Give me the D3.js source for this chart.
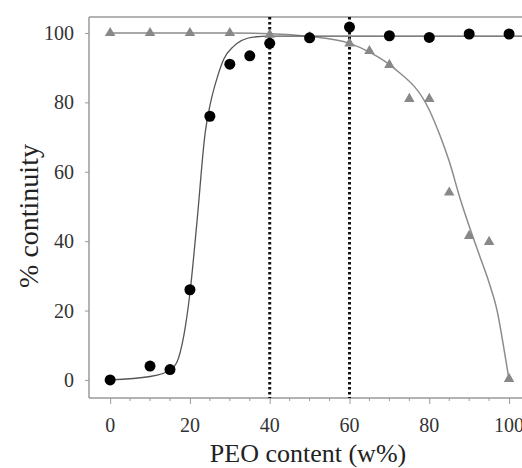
<!DOCTYPE html>
<html lang="en">
<head>
  <meta charset="UTF-8">
  <title>% continuity vs PEO content</title>
  <script src="https://cdnjs.cloudflare.com/ajax/libs/d3/7.8.5/d3.min.js"></script>
  <style>
    body { margin: 0; background: #fff; }
    text { font-family: "Liberation Serif", "DejaVu Serif", serif; fill: #333; }
    .tick-label { font-size: 20px; }
    .title { font-size: 26px; fill: #222; }
  </style>
</head>
<body>
  <svg width="522" height="468"></svg>
  <script>
    // circles (black) - measured points
    var circleX = [0, 10, 15, 20, 25, 30, 35, 40, 50, 60, 70, 80, 90, 100]
    var circleY = [0, 4, 3, 26, 76, 91, 93.4, 97, 98.6, 101.7, 99.2, 98.7, 99.7, 99.7]

    // triangles (grey)
    var triX = [0, 10, 20, 30, 40, 50, 60, 65, 70, 75, 80, 85, 90, 95, 100]
    var triY = [100, 100, 100, 100, 99.5, 98.8, 97, 94.8, 90.8, 81, 81, 54, 41.5, 39.8, 0.3]

    // fitted curves
    var fitCircX = [0, 10, 15, 16.7, 18.5, 20, 21.8, 23.8, 25, 26.8, 28.5, 30.8, 35.8, 40, 50, 106]
    var fitCircY = [0, 1, 2.8, 5, 13, 25, 46, 71, 79, 87, 92.5, 96, 98.8, 99.1, 99.1, 99.1]
    var fitTriX = [0, 30, 40, 50, 60, 65, 71, 80, 82.5, 85, 87.8, 90.7, 92.7, 95, 97, 99, 100]
    var fitTriY = [100, 100, 99.8, 99, 97, 94.5, 90, 77.8, 71, 63, 52, 42, 35.5, 28, 20, 7, 0]

    var xTicks = [0, 20, 40, 60, 80, 100]
    var yTicks = [0, 20, 40, 60, 80, 100]
    var vLines = [40, 60]

    var svg = d3.select("svg")
    var x = d3.scaleLinear().domain([-5.3, 106]).range([89, 533])
    var y = d3.scaleLinear().domain([-5.2, 104.6]).range([398, 17])

    var axisCol = "#9a9a9a"

    // frame: left, bottom, top
    svg.append("line").attr("x1", x(-5.3)).attr("x2", x(-5.3)).attr("y1", y(104.6)).attr("y2", y(-5.2))
      .attr("stroke", axisCol).attr("stroke-width", 1.5)
    svg.append("line").attr("x1", x(-5.3)).attr("x2", 522).attr("y1", y(-5.2)).attr("y2", y(-5.2))
      .attr("stroke", axisCol).attr("stroke-width", 1.5)
    svg.append("line").attr("x1", x(-5.3)).attr("x2", 522).attr("y1", y(104.6)).attr("y2", y(104.6))
      .attr("stroke", axisCol).attr("stroke-width", 1.5)

    // x axis ticks
    var xAxis = d3.axisBottom(x).tickValues(xTicks).tickSize(6).tickFormat("")
    var gx = svg.append("g").attr("transform", "translate(0," + y(-5.2) + ")").call(xAxis)
    gx.select(".domain").remove()
    gx.selectAll("line").attr("stroke", axisCol)
    var minor = d3.range(5, 101, 5).filter(d => d % 20 !== 0)
    svg.append("g").selectAll("line").data(minor).join("line")
      .attr("x1", d => x(d)).attr("x2", d => x(d))
      .attr("y1", y(-5.2)).attr("y2", y(-5.2) + 3)
      .attr("stroke", axisCol)
    svg.append("g").selectAll("text").data(xTicks).join("text")
      .attr("class", "tick-label")
      .attr("x", d => x(d)).attr("y", 432)
      .attr("text-anchor", "middle")
      .text(d => d)

    // y axis ticks
    var yAxis = d3.axisLeft(y).tickValues(yTicks).tickSize(4).tickFormat("")
    var gy = svg.append("g").attr("transform", "translate(" + x(-5.3) + ",0)").call(yAxis)
    gy.select(".domain").remove()
    gy.selectAll("line").attr("stroke", axisCol)
    svg.append("g").selectAll("text").data(yTicks).join("text")
      .attr("class", "tick-label")
      .attr("x", 74).attr("y", d => y(d))
      .attr("dy", "0.35em")
      .attr("text-anchor", "end")
      .text(d => d)

    // fitted curves
    var line = d3.line().x(d => x(d[0])).y(d => y(d[1])).curve(d3.curveMonotoneX)
    svg.append("path").datum(d3.zip(fitTriX, fitTriY))
      .attr("d", line).attr("fill", "none").attr("stroke", "#8c8c8c").attr("stroke-width", 1.5)
    svg.append("path").datum(d3.zip(fitCircX, fitCircY))
      .attr("d", line).attr("fill", "none").attr("stroke", "#555").attr("stroke-width", 1.3)

    // dotted verticals
    svg.append("g").selectAll("line").data(vLines).join("line")
      .attr("x1", d => x(d)).attr("x2", d => x(d))
      .attr("y1", y(104.6)).attr("y2", y(-5.2))
      .attr("stroke", "#111").attr("stroke-width", 3)
      .attr("stroke-dasharray", "2.5,2.5")

    // triangles
    var tri = d3.symbol().type(d3.symbolTriangle).size(48)
    svg.append("g").selectAll("path").data(d3.zip(triX, triY)).join("path")
      .attr("d", tri)
      .attr("transform", d => "translate(" + x(d[0]) + "," + y(d[1]) + ")")
      .attr("fill", "#888")

    // circles
    svg.append("g").selectAll("circle").data(d3.zip(circleX, circleY)).join("circle")
      .attr("cx", d => x(d[0])).attr("cy", d => y(d[1]))
      .attr("r", 5.5)
      .attr("fill", "#000")

    // titles
    svg.append("text").attr("class", "title")
      .attr("x", 308).attr("y", 462)
      .attr("text-anchor", "middle")
      .text("PEO content (w%)")
    svg.append("text").attr("class", "title")
      .style("font-size", "28px")
      .attr("transform", "translate(38,216) rotate(-90)")
      .attr("text-anchor", "middle")
      .text("% continuity")
  </script>
</body>
</html>
